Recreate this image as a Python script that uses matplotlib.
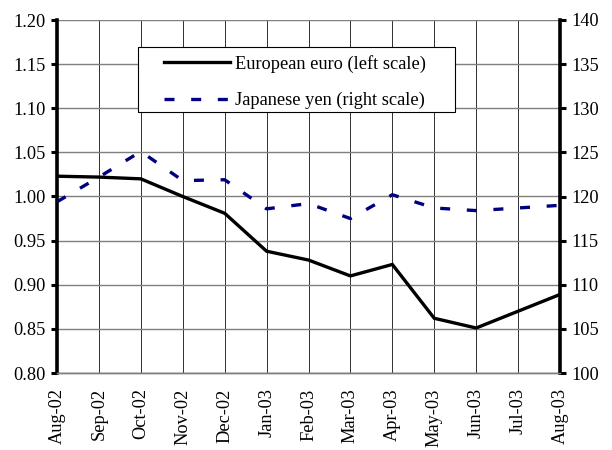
import matplotlib
matplotlib.use("Agg")
import matplotlib.pyplot as plt
from matplotlib.lines import Line2D
from matplotlib.patches import Rectangle

months = ["Aug-02", "Sep-02", "Oct-02", "Nov-02", "Dec-02", "Jan-03", "Feb-03",
          "Mar-03", "Apr-03", "May-03", "Jun-03", "Jul-03", "Aug-03"]
euro = [1.023, 1.022, 1.020, 1.000, 0.981, 0.938, 0.928, 0.910, 0.923, 0.862, 0.851, 0.870, 0.889]
yen = [119.4, 122.2, 125.1, 121.8, 121.9, 118.6, 119.2, 117.5, 120.2, 118.7, 118.4, 118.7, 119.0]
left_ticks = [0.80, 0.85, 0.90, 0.95, 1.00, 1.05, 1.10, 1.15, 1.20]
right_ticks = [100, 105, 110, 115, 120, 125, 130, 135, 140]

plt.rcParams['font.family'] = ['Liberation Serif', 'DejaVu Serif']
fs = 13.2

fig = plt.figure(figsize=(6.12, 4.5), dpi=100)
ax = fig.add_axes([57/612, 1-373/450, (560-57)/612, (373-20)/450])
ax2 = ax.twinx()

x = list(range(len(months)))
ax.plot(x, euro, color='black', lw=2.4, solid_joinstyle='miter', zorder=5)
ax2.plot(x, yen, color='#000080', lw=2.4, dashes=(3, 5), zorder=5)

ax.set_xlim(0, len(months)-1)
ax.set_ylim(0.80, 1.20)
ax2.set_ylim(100, 140)
ax.set_yticks(left_ticks)
ax.set_yticklabels([f"{v:.2f}" for v in left_ticks], fontsize=fs)
ax2.set_yticks(right_ticks)
ax2.set_yticklabels([str(v) for v in right_ticks], fontsize=fs)
ax.set_xticks(x)
ax.set_xticklabels(months, rotation=90, fontsize=fs)
ax.tick_params(axis='x', length=0, pad=11)
ax.tick_params(axis='y', direction='out', length=4, width=2.2, pad=4)
ax2.tick_params(axis='y', direction='out', length=4, width=2.2, pad=4)

ax.grid(axis='y', color='#7f7f7f', lw=1.0)
ax.grid(axis='x', color='#303030', lw=0.7)
ax.set_axisbelow(True)

for a in (ax, ax2):
    a.spines['top'].set_visible(False)
    a.spines['bottom'].set_color('#7f7f7f')
    a.spines['bottom'].set_linewidth(1.0)
    a.spines['left'].set_linewidth(2.6)
    a.spines['right'].set_linewidth(2.6)
ax.spines['right'].set_visible(False)
ax2.spines['left'].set_visible(False)

# legend frame drawn separately for asymmetric padding
box = Rectangle((0.161, 0.7394), 0.630, 0.184, transform=ax2.transAxes,
                facecolor='white', edgecolor='black', lw=0.8, zorder=6)
ax2.add_patch(box)

handles = [Line2D([], [], color='black', lw=2.4),
           Line2D([], [], color='#000080', lw=2.4, dashes=(3, 5))]
leg = ax2.legend(handles, ["European euro (left scale)", "Japanese yen (right scale)"],
                 loc='upper left', bbox_to_anchor=(0.2127, 0.901), borderaxespad=0,
                 fontsize=fs, frameon=False, handlelength=3.6, handletextpad=0.25,
                 labelspacing=1.05, borderpad=0)
leg.set_zorder(7)

fig.savefig("out.png", dpi=100)
